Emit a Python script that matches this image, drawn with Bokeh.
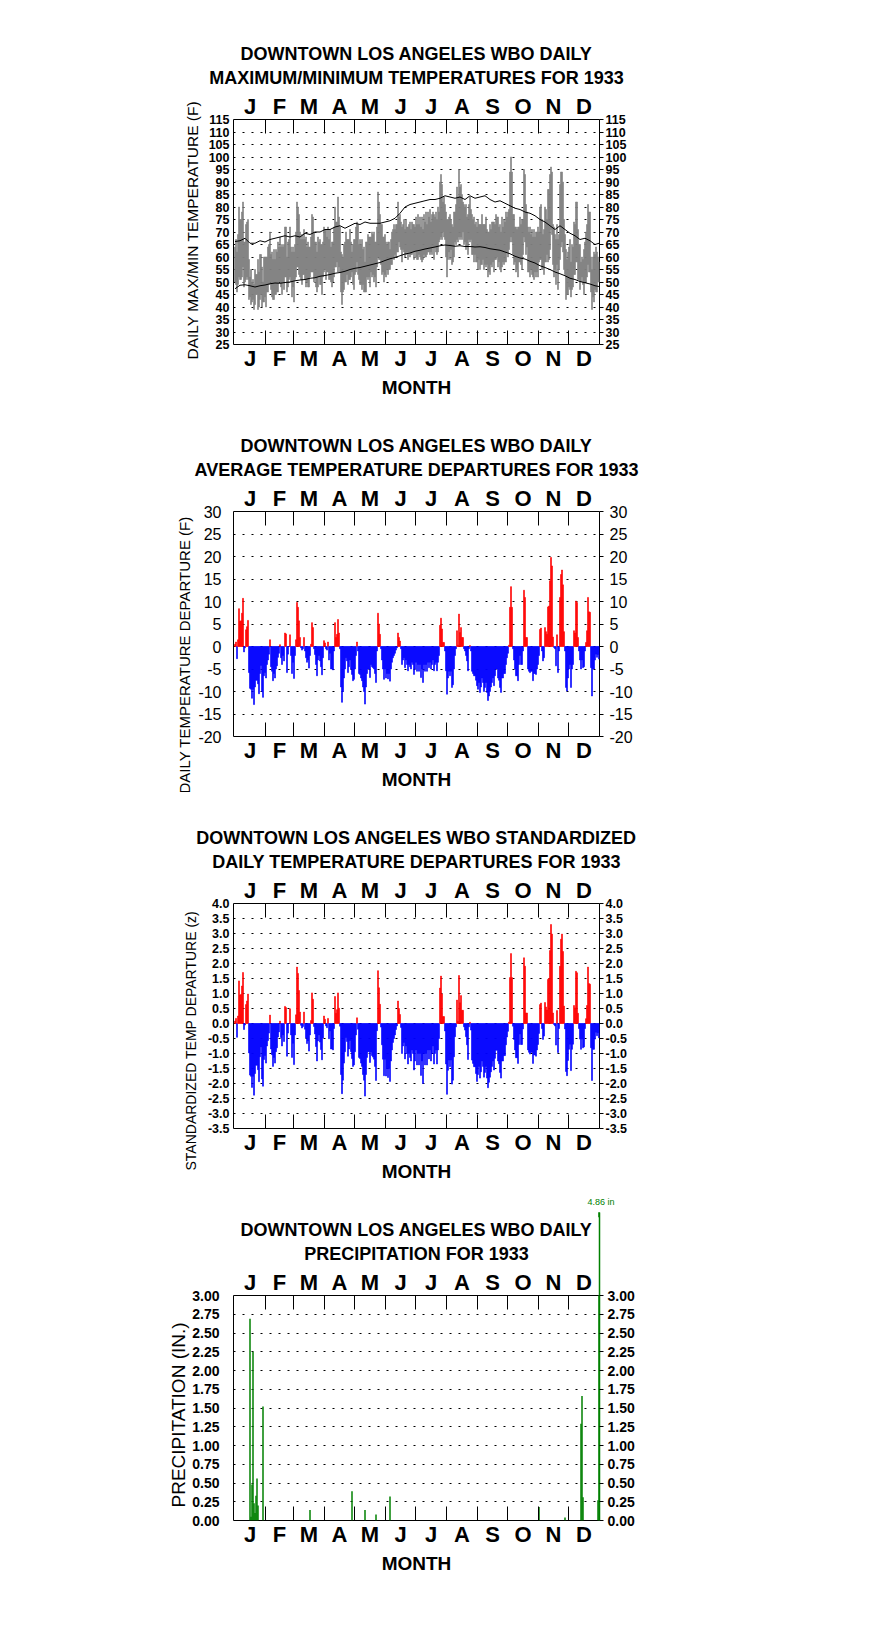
import numpy as np
from bokeh.plotting import figure
from bokeh.layouts import column
from bokeh.models import (Range1d, LinearAxis, FixedTicker, Title, Arrow, NormalHead,
                          Grid, PrintfTickFormatter, ColumnDataSource)
from bokeh.embed import file_html
from bokeh.resources import INLINE

FONT = "Liberation Sans"

month_letters = ["J", "F", "M", "A", "M", "J", "J", "A", "S", "O", "N", "D"]
month_days = [31, 28, 31, 30, 31, 30, 31, 31, 30, 31, 30, 31]

temp_ticks = [25, 30, 35, 40, 45, 50, 55, 60, 65, 70, 75, 80, 85, 90, 95, 100, 105, 110, 115]
dep_ticks = [-20, -15, -10, -5, 0, 5, 10, 15, 20, 25, 30]
z_ticks = [-3.5, -3.0, -2.5, -2.0, -1.5, -1.0, -0.5, 0.0, 0.5, 1.0, 1.5, 2.0, 2.5, 3.0, 3.5, 4.0]
pcp_ticks = [0.0, 0.25, 0.5, 0.75, 1.0, 1.25, 1.5, 1.75, 2.0, 2.25, 2.5, 2.75, 3.0]

# daily maximum temperatures (F)
tmax = (
    [64, 67, 62, 69, 80, 75, 75, 78, 82, 66, 66, 73, 74, 75, 59, 52, 55, 50, 51, 49, 55, 53, 53, 59, 54, 61, 61, 56, 50, 60, 60]
    + [60, 60, 64, 65, 70, 61, 62, 59, 63, 59, 63, 62, 66, 64, 68, 64, 65, 64, 65, 72, 72, 60, 66, 67, 72, 64, 62, 64]
    + [62, 65, 70, 82, 80, 77, 70, 67, 69, 67, 71, 67, 68, 64, 66, 64, 64, 68, 77, 76, 70, 66, 66, 62, 68, 66, 67, 65, 65, 66, 72]
    + [71, 71, 68, 72, 67, 71, 64, 66, 66, 72, 80, 74, 74, 84, 76, 72, 62, 61, 60, 65, 66, 70, 67, 67, 67, 71, 66, 62, 65, 67]
    + [67, 72, 74, 73, 65, 67, 65, 67, 63, 64, 58, 66, 66, 69, 68, 68, 68, 70, 69, 70, 66, 66, 72, 86, 82, 77, 73, 73, 68, 68, 69]
    + [66, 65, 66, 66, 63, 67, 70, 71, 73, 71, 73, 73, 82, 76, 77, 74, 72, 73, 75, 71, 75, 72, 72, 73, 74, 71, 74, 73, 73, 72]
    + [76, 73, 77, 73, 76, 72, 76, 71, 77, 74, 78, 73, 78, 76, 79, 74, 77, 78, 77, 76, 78, 75, 80, 78, 90, 93, 89, 82, 84, 81, 78]
    + [75, 75, 76, 77, 75, 73, 72, 78, 78, 81, 88, 84, 95, 88, 89, 85, 82, 81, 80, 81, 76, 77, 81, 84, 79, 77, 75, 76, 73, 74, 72]
    + [75, 73, 73, 73, 77, 73, 73, 73, 76, 71, 70, 70, 73, 71, 74, 74, 74, 73, 77, 76, 76, 72, 73, 70, 76, 72, 75, 74, 78, 76]
    + [78, 79, 94, 100, 94, 77, 77, 72, 72, 71, 72, 72, 76, 73, 75, 75, 95, 93, 81, 78, 72, 70, 72, 69, 71, 68, 71, 68, 70, 70, 72]
    + [70, 80, 81, 75, 69, 71, 80, 79, 75, 87, 87, 93, 96, 94, 73, 72, 69, 67, 73, 67, 69, 89, 94, 94, 90, 75, 69, 63, 59, 62]
    + [64, 67, 58, 65, 64, 74, 73, 82, 82, 71, 65, 65, 58, 60, 59, 63, 66, 70, 73, 81, 78, 78, 60, 55, 60, 62, 61, 64, 62, 60, 58]
)

# daily minimum temperatures (F)
tmin = (
    [50, 49, 46, 49, 52, 51, 51, 52, 56, 48, 50, 51, 52, 51, 43, 44, 41, 42, 43, 39, 41, 45, 45, 39, 40, 43, 45, 40, 42, 42, 44]
    + [40, 46, 46, 49, 50, 47, 44, 43, 43, 45, 45, 46, 46, 50, 50, 48, 45, 50, 47, 52, 52, 46, 48, 51, 52, 50, 44, 48]
    + [42, 51, 52, 56, 56, 53, 52, 51, 49, 53, 53, 51, 48, 50, 48, 48, 52, 54, 54, 54, 50, 52, 48, 46, 48, 52, 49, 49, 45, 52, 54]
    + [55, 51, 54, 54, 51, 51, 50, 48, 50, 52, 56, 56, 58, 54, 56, 54, 46, 41, 46, 47, 50, 50, 53, 49, 51, 51, 52, 54, 49, 47]
    + [53, 54, 58, 53, 51, 49, 49, 47, 49, 46, 46, 46, 52, 51, 52, 48, 54, 52, 53, 50, 52, 48, 56, 60, 59, 59, 57, 53, 54, 50, 53]
    + [52, 55, 53, 55, 55, 57, 57, 60, 59, 61, 60, 62, 62, 66, 64, 63, 58, 63, 62, 60, 61, 62, 59, 62, 60, 61, 61, 62, 59, 62]
    + [60, 59, 59, 61, 60, 59, 58, 59, 61, 60, 60, 61, 62, 62, 61, 62, 61, 64, 59, 64, 62, 61, 62, 66, 67, 68, 67, 70, 68, 67, 60]
    + [52, 59, 62, 59, 63, 57, 58, 60, 66, 65, 67, 66, 68, 67, 68, 67, 70, 65, 66, 63, 64, 61, 67, 66, 67, 61, 61, 58, 61, 58, 58]
    + [55, 59, 55, 57, 57, 59, 55, 57, 56, 57, 52, 54, 53, 57, 56, 58, 54, 59, 59, 60, 56, 58, 55, 54, 56, 58, 57, 58, 58, 62]
    + [60, 63, 66, 68, 66, 61, 57, 58, 54, 55, 52, 58, 58, 57, 55, 61, 68, 66, 61, 64, 54, 54, 52, 55, 53, 52, 51, 54, 52, 54, 52]
    + [58, 59, 59, 55, 55, 53, 58, 58, 61, 58, 59, 63, 71, 69, 57, 52, 55, 49, 57, 47, 55, 59, 64, 66, 62, 55, 53, 43, 45, 45]
    + [48, 47, 44, 47, 48, 53, 53, 58, 58, 51, 51, 47, 50, 52, 49, 45, 50, 50, 52, 57, 54, 54, 46, 39, 44, 42, 47, 46, 46, 50, 50]
)

# normal max / min temperatures, sampled every 5 days (day of year)
norm_day = [1, 6, 11, 16, 21, 26, 31, 36, 41, 46, 51, 56, 61, 66, 71, 76, 81, 86, 91, 96, 101, 106, 111, 116,
            121, 126, 131, 136, 141, 146, 151, 156, 161, 166, 171, 176, 181, 186, 191, 196, 201, 206, 211, 216,
            221, 226, 231, 236, 241, 246, 251, 256, 261, 266, 271, 276, 281, 286, 291, 296, 301, 306, 311, 316,
            321, 326, 331, 336, 341, 346, 351, 356, 361, 365]
norm_max = [66.2, 66.5, 67.5, 65.5, 65.5, 66.5, 66, 67, 67.5, 68, 68.5, 68, 68.5, 68, 69.5, 69, 70, 70, 71, 71,
            72, 72.5, 71.5, 72.5, 73.5, 73, 74, 73.5, 73.5, 73.5, 74, 74.5, 75.5, 77.5, 80, 81, 81.5, 82, 82.5, 83,
            83, 83.5, 84.5, 84, 83.5, 84, 83, 84.5, 83.5, 84, 84.5, 83, 82, 82.5, 81.5, 80.5, 79.5, 79, 78, 77.5,
            76.5, 75, 74, 72.5, 71, 72.5, 71, 69.5, 68.5, 67, 67.5, 66.5, 65, 65.5]
norm_min = [47.3, 48.7, 48.9, 48.5, 48, 48.5, 48.8, 49.3, 49.6, 49.5, 49.8, 50, 50.5, 50.8, 51, 51.5, 51.7, 52.3,
            52.6, 53, 53.5, 53.8, 54.3, 55, 55.5, 55.8, 56.3, 56.8, 57.3, 57.8, 58.6, 59.3, 59.8, 60.5, 61.2, 61.6,
            62.3, 62.7, 63.2, 63.6, 64, 64.5, 64.8, 64.6, 64.3, 64.5, 64.2, 64.2, 64, 64.1, 63.8, 63.3, 63, 62.7,
            62, 61.3, 60.3, 59.6, 59.2, 58.3, 57.6, 56.5, 55.8, 55, 54, 53.3, 52.5, 51.5, 51, 50.2, 49.7, 49.2,
            48.5, 48.2]

# daily average temperature departures (F)
dep = (
    [0.5, 1, -2.7, 1.5, 8.4, 5.6, 5.7, 7.4, 10.7, -1.2, -0.3, 3.7, 4.4, 5.8, -5.8, -9.3, -9.5, -11.5, -9.5, -12.9, -9, -7.5, -7.5, -8.3, -10.5, -6, -4.2, -10, -11.3, -6.5, -5.8]
    + [-7, -4, -3, -1.7, 1.5, -4.5, -5.5, -7.6, -6, -7, -5, -4.3, -2.4, -1.5, 0.4, -2.5, -4, -2, -3.2, 3, 2.8, -5.8, -1.7, 0, 2.6, -2, -6, -3.5]
    + [-7.1, -2, 1.5, 9.8, 8.7, 5.7, 2, -0.3, -0.8, -0.5, 2, -1, -2.5, -3.5, -3, -4.8, -2, 0.5, 5.3, 4.2, -0.5, -1.8, -4, -6.5, -3, -2, -3.2, -4.5, -6.3, -2.5, 1.3]
    + [0.8, -0.5, -0.8, 1, -3, -1.5, -5, -5, -5.2, -1, 5.3, 2, 2.7, 6, 3, -0.5, -9, -12.4, -10, -7, -5, -2.5, -3.2, -5.8, -4.5, -3, -5, -6.2, -7.6, -7.3]
    + [-5, -2, 1, -1, -6, -6.2, -7, -7.6, -9, -10, -12.8, -9, -6, -5, -5, -6.9, -4, -4.5, -4.7, -5, -6, -8, -1, 7.4, 5, 2.7, -0.5, -3, -5, -7.3, -5]
    + [-7, -6, -7.2, -6, -7.7, -5, -3.5, -2.5, -2, -1.5, -0.8, -0.3, 3, 2, 1.2, -0.5, -4, -3, -2.5, -4.7, -3, -4, -5.4, -4, -4.5, -5, -3.5, -4, -6.2, -5]
    + [-3.5, -5.5, -4, -5.5, -4, -6.9, -5, -8, -4, -5.5, -4, -5.5, -3.5, -4.7, -3.5, -5, -4, -3, -5.4, -4, -3.5, -5.4, -3.5, -2, 4.7, 6.3, 3.9, 0.9, 0.9, -1, -5.4]
    + [-10.6, -7, -5.5, -6.5, -5.5, -9.1, -8.5, -5, -2, -0.5, 3.5, 0.3, 7.2, 3.1, 4.2, 2, 2, -0.5, -1, -2, -3.2, -5.4, -0.5, 0.2, -1, -5.5, -6, -6.5, -6.5, -7.5, -8.7]
    + [-9.5, -8, -10.2, -9, -7, -8, -10, -9.1, -8, -10.2, -12, -11, -10, -9, -8, -7, -8.7, -6.5, -5, -5, -7, -7.5, -9.1, -10.2, -7, -7, -6, -6, -4, -2.5]
    + [-1.5, 0.3, 8.7, 13.3, 8.7, -0.5, -3, -5, -6.5, -6.5, -7.6, -4, -2, -4, -4, -1, 12.5, 10.9, 2, 2, -5, -5.5, -5.8, -5.5, -5.5, -7.6, -6, -6, -6.2, -5, -4]
    + [-2, 3.8, 4.1, -1, -3.2, -2.5, 4.2, 3.3, 2.7, 8.8, 9, 14.6, 19.8, 17.9, 2.1, -0.2, -0.5, -4.3, 2.6, -5.8, -1, 10.9, 16, 17, 13.7, 3.3, -1, -9.1, -9.9, -7]
    + [-5, -4, -9.1, -5, -4, 3.5, 3, 10.1, 9.8, 2, -1, -3, -5, -3, -4.7, -4.5, -1, 0.9, 3.5, 10.9, 7.7, 7.6, -4.7, -11, -5, -5, -3, -1.7, -2.4, -1.8, -2.8]
)

# standardized daily temperature departures (z)
zdep = (
    [0.08, 0.17, -0.46, 0.25, 1.42, 0.95, 0.97, 1.25, 1.70, -0.20, -0.05, 0.63, 0.75, 0.98, -0.98, -1.72, -1.76, -2.13, -1.76, -2.39, -1.67, -1.39, -1.39, -1.54, -1.94, -1.11, -0.78, -1.85, -2.09, -1.20, -1.07]
    + [-1.32, -0.75, -0.57, -0.32, 0.28, -0.85, -1.04, -1.43, -1.13, -1.32, -0.94, -0.81, -0.45, -0.28, 0.08, -0.47, -0.75, -0.38, -0.60, 0.57, 0.53, -1.09, -0.32, 0.00, 0.49, -0.38, -1.13, -0.66]
    + [-1.37, -0.38, 0.29, 1.88, 1.67, 1.10, 0.38, -0.06, -0.15, -0.10, 0.38, -0.19, -0.48, -0.67, -0.58, -0.92, -0.38, 0.10, 1.02, 0.81, -0.10, -0.35, -0.77, -1.25, -0.58, -0.38, -0.62, -0.87, -1.21, -0.48, 0.25]
    + [0.14, -0.08, -0.14, 0.17, -0.51, -0.25, -0.85, -0.85, -0.88, -0.17, 0.90, 0.34, 0.46, 1.02, 0.51, -0.09, -1.70, -2.34, -1.89, -1.32, -0.94, -0.47, -0.60, -1.09, -0.85, -0.57, -0.94, -1.17, -1.43, -1.38]
    + [-0.94, -0.38, 0.19, -0.19, -1.13, -1.17, -1.32, -1.43, -1.70, -1.89, -2.42, -1.70, -1.13, -0.94, -0.94, -1.30, -0.95, -1.07, -1.12, -1.19, -1.43, -1.90, -0.24, 1.76, 1.19, 0.64, -0.12, -0.71, -1.19, -1.74, -1.19]
    + [-1.75, -1.50, -1.80, -1.50, -1.93, -1.25, -0.88, -0.63, -0.50, -0.38, -0.20, -0.08, 0.75, 0.50, 0.30, -0.13, -1.00, -0.75, -0.63, -1.18, -0.75, -1.00, -1.35, -1.00, -1.13, -1.25, -0.88, -1.00, -1.55, -1.25]
    + [-0.88, -1.38, -1.00, -1.38, -1.00, -1.73, -1.25, -2.00, -1.00, -1.38, -1.00, -1.38, -0.88, -1.18, -0.88, -1.25, -1.00, -0.75, -1.35, -1.00, -0.88, -1.35, -0.88, -0.50, 1.18, 1.58, 0.98, 0.23, 0.23, -0.25, -1.35]
    + [-2.36, -1.56, -1.22, -1.44, -1.22, -2.02, -1.89, -1.11, -0.44, -0.11, 0.78, 0.07, 1.60, 0.69, 0.93, 0.44, 0.44, -0.11, -0.22, -0.44, -0.71, -1.20, -0.11, 0.04, -0.22, -1.22, -1.33, -1.44, -1.44, -1.67, -1.93]
    + [-1.70, -1.43, -1.82, -1.61, -1.25, -1.43, -1.79, -1.63, -1.43, -1.82, -2.14, -1.96, -1.79, -1.61, -1.43, -1.25, -1.55, -1.16, -0.89, -0.89, -1.25, -1.34, -1.63, -1.82, -1.25, -1.25, -1.07, -1.07, -0.71, -0.45]
    + [-0.26, 0.05, 1.53, 2.33, 1.53, -0.09, -0.53, -0.88, -1.14, -1.14, -1.33, -0.70, -0.35, -0.70, -0.70, -0.18, 2.19, 1.91, 0.35, 0.35, -0.88, -0.96, -1.02, -0.96, -0.96, -1.33, -1.05, -1.05, -1.09, -0.88, -0.70]
    + [-0.33, 0.63, 0.68, -0.17, -0.53, -0.42, 0.70, 0.55, 0.45, 1.47, 1.50, 2.43, 3.30, 2.98, 0.35, -0.03, -0.08, -0.72, 0.43, -0.97, -0.17, 1.91, 2.81, 2.98, 2.40, 0.58, -0.18, -1.60, -1.74, -1.23]
    + [-0.86, -0.69, -1.57, -0.86, -0.69, 0.60, 0.52, 1.74, 1.69, 0.34, -0.17, -0.52, -0.86, -0.52, -0.81, -0.78, -0.17, 0.16, 0.60, 1.88, 1.33, 1.31, -0.81, -1.90, -0.86, -0.86, -0.52, -0.29, -0.41, -0.31, -0.48]
)

# daily precipitation (in.), day of year -> amount
pcp_day = [16, 17, 18, 19, 20, 21, 22, 23, 24, 29, 76, 118, 131, 142, 156, 305, 331, 347, 348, 349, 364, 365]
pcp_in = [2.69, 0.05, 0.48, 2.25, 0.23, 0.10, 0.33, 0.56, 0.20, 1.52, 0.14, 0.39, 0.14, 0.08, 0.32, 0.18, 0.04,
          1.29, 1.66, 0.31, 0.27, 4.86]

assert len(tmax) == 365 and len(tmin) == 365 and len(dep) == 365 and len(zdep) == 365
assert len(norm_day) == len(norm_max) == len(norm_min)

# ---------------------------------------------------------------------------
LEFT, RIGHT, TOP, BOTTOM = 233, 108, 111, 56
FRAME_W, FRAME_H = 366, 225
W = LEFT + FRAME_W + RIGHT
H = TOP + FRAME_H + BOTTOM
GREEN = "#008000"
starts = [1]
for m in month_days:
    starts.append(starts[-1] + m)
bounds = starts[1:-1]
centers = [(starts[i] + starts[i + 1]) / 2 for i in range(12)]
overrides = {c: l for c, l in zip(centers, month_letters)}
day_x = [d + 0.5 for d in range(1, 366)]


def month_axis(label=None):
    ax = LinearAxis(ticker=FixedTicker(ticks=centers, minor_ticks=bounds),
                    major_label_overrides=overrides)
    ax.major_tick_in = 0
    ax.major_tick_out = 0
    ax.minor_tick_in = 14
    ax.minor_tick_out = 0
    ax.minor_tick_line_color = "black"
    ax.axis_line_color = None
    ax.major_label_text_font = FONT
    ax.major_label_text_font_size = "22px"
    ax.major_label_text_font_style = "bold"
    ax.major_label_text_color = "black"
    ax.major_label_standoff = 1
    if label:
        ax.axis_label = label
        ax.axis_label_text_font = FONT
        ax.axis_label_text_font_size = "19px"
        ax.axis_label_text_font_style = "bold"
        ax.axis_label_text_color = "black"
        ax.axis_label_standoff = 3
    return ax


def y_axis(ticks, fmt, size, style, side, standoff=4):
    ax = LinearAxis(ticker=FixedTicker(ticks=ticks), formatter=PrintfTickFormatter(format=fmt))
    ax.major_tick_in = 0
    ax.major_tick_out = 0 if side == "left" else 4
    ax.major_tick_line_color = "black"
    ax.minor_tick_out = 0
    ax.minor_tick_in = 0
    ax.axis_line_color = None
    ax.major_label_text_font = FONT
    ax.major_label_text_font_size = size
    ax.major_label_text_font_style = style
    ax.major_label_text_color = "black"
    ax.major_label_standoff = standoff
    return ax


def panel(t1, t2, ylabel, ylab_size, ylab_offset, ylab_standoff, y0, y1, ticks, grid_ticks,
          fmt, size, style, lstand, rstand, top_extra=0, extra_below=None):
    p = figure(width=W, height=H + top_extra, x_range=Range1d(0, 366), y_range=Range1d(y0, y1),
               output_backend="svg", toolbar_location=None, title=None,
               x_axis_location=None, y_axis_location=None,
               min_border_left=LEFT, min_border_right=RIGHT, min_border_top=TOP + top_extra,
               min_border_bottom=BOTTOM)
    p.grid.visible = False
    p.outline_line_color = "black"
    p.outline_line_width = 1
    p.outline_line_alpha = 1
    p.background_fill_color = "white"
    p.border_fill_color = "white"
    p.add_layout(Grid(dimension=1, ticker=FixedTicker(ticks=grid_ticks), grid_line_color="black",
                      grid_line_dash="2 7", grid_line_width=1), "center")
    p.add_layout(month_axis(), "above")
    p.add_layout(Title(text=t2, align="center", text_font=FONT, text_font_size="18px",
                       text_font_style="bold", text_color="black", standoff=5, text_line_height=0.88), "above")
    p.add_layout(Title(text=t1, align="center", text_font=FONT, text_font_size="18px",
                       text_font_style="bold", text_color="black", standoff=0, text_line_height=0.9), "above")
    for ax in (extra_below or []):
        p.add_layout(ax, "below")
    p.add_layout(month_axis("MONTH"), "below")
    p.add_layout(y_axis(ticks, fmt, size, style, "left", lstand), "left")
    p.add_layout(Title(text=ylabel, align="left", offset=ylab_offset, standoff=ylab_standoff,
                       text_font=FONT, text_font_size=ylab_size, text_font_style="normal",
                       text_color="black"), "left")
    p.add_layout(y_axis(ticks, fmt, size, style, "right", rstand), "right")
    return p


# Panel 1: max/min temperatures
p1 = panel("DOWNTOWN LOS ANGELES WBO DAILY", "MAXIMUM/MINIMUM TEMPERATURES FOR 1933",
           "DAILY MAX/MIN TEMPERATURE (F)", "15.5px", -15, 9, 25, 115, temp_ticks, temp_ticks[1:-1],
           "%d", "12.5px", "bold", 4, 2, top_extra=8)
src1 = ColumnDataSource(dict(x=day_x, lo=tmin, hi=tmax))
p1.vbar(x="x", bottom="lo", top="hi", width=1, source=src1, fill_color="#808080",
        line_color="#808080", line_width=0.6)
p1.line([d + 0.5 for d in norm_day], norm_max, line_color="black", line_width=1)
p1.line([d + 0.5 for d in norm_day], norm_min, line_color="black", line_width=1)

# Panel 2: departures
p2 = panel("DOWNTOWN LOS ANGELES WBO DAILY", "AVERAGE TEMPERATURE DEPARTURES FOR 1933",
           "DAILY TEMPERATURE DEPARTURE (F)", "15px", -57, 5, -20, 30, dep_ticks, dep_ticks[1:-1],
           "%d", "16px", "normal", 12, 6)
cols2 = ["#ff0000" if v > 0 else "#0000ff" for v in dep]
src2 = ColumnDataSource(dict(x=day_x, top=dep, c=cols2))
p2.vbar(x="x", bottom=0, top="top", width=1, source=src2, fill_color="c", line_color="c", line_width=0.6)

# Panel 3: standardized departures
p3 = panel("DOWNTOWN LOS ANGELES WBO STANDARDIZED", "DAILY TEMPERATURE DEPARTURES FOR 1933",
           "STANDARDIZED TEMP DEPARTURE (z)", "14px", -42, 12, -3.5, 4.0, z_ticks, z_ticks[1:-1],
           "%.1f", "12.5px", "bold", 4, 2)
cols3 = ["#ff0000" if v > 0 else "#0000ff" for v in zdep]
src3 = ColumnDataSource(dict(x=day_x, top=zdep, c=cols3))
p3.vbar(x="x", bottom=0, top="top", width=1, source=src3, fill_color="c", line_color="c", line_width=0.6)

# Panel 4: precipitation
P_LO, P_HI = 0, 3
px = [d + 0.5 for d in pcp_day]
big = [(x, v) for x, v in zip(px, pcp_in) if v > P_HI]
tip = P_HI * 1.37
shaft_px = (tip - P_HI) / (P_HI - P_LO) * FRAME_H

# off-scale amounts: a green tick rising from the bottom edge past the top of the frame
over_axes = []
for x, v in big:
    gax = LinearAxis(ticker=FixedTicker(ticks=[x]), major_label_overrides={x: ""})
    gax.major_tick_in = int(round(FRAME_H + shaft_px))
    gax.major_tick_out = 0
    gax.major_tick_line_color = GREEN
    gax.major_tick_line_width = 1.5
    gax.minor_tick_in = 0
    gax.minor_tick_out = 0
    gax.axis_line_color = None
    gax.major_label_text_font_size = "0px"
    gax.major_label_standoff = 0
    over_axes.append(gax)

p4 = panel("DOWNTOWN LOS ANGELES WBO DAILY", "PRECIPITATION FOR 1933",
           "PRECIPITATION (IN.)", "19px", 13, 2, P_LO, P_HI, pcp_ticks, pcp_ticks[1:-1],
           "%.2f", "14px", "bold", 14, 4, extra_below=over_axes)
p4.segment(x0=px, y0=[0] * len(px), x1=px, y1=pcp_in, line_color=GREEN, line_width=1.5)
for x, v in big:
    p4.add_layout(Arrow(x_start=x, y_start=P_HI, x_end=x, y_end=tip,
                        line_color=GREEN, line_width=1.5,
                        end=NormalHead(size=5, fill_color=GREEN, line_color=GREEN)))
    p4.add_layout(Title(text="%.2f in" % v, align="right", offset=-15, standoff=21,
                        text_font=FONT, text_font_size="9px", text_font_style="normal",
                        text_color=GREEN, text_line_height=0.8), "above")

layout = column(p1, p2, p3, p4)
open("out.html", "w").write(file_html(layout, INLINE))
